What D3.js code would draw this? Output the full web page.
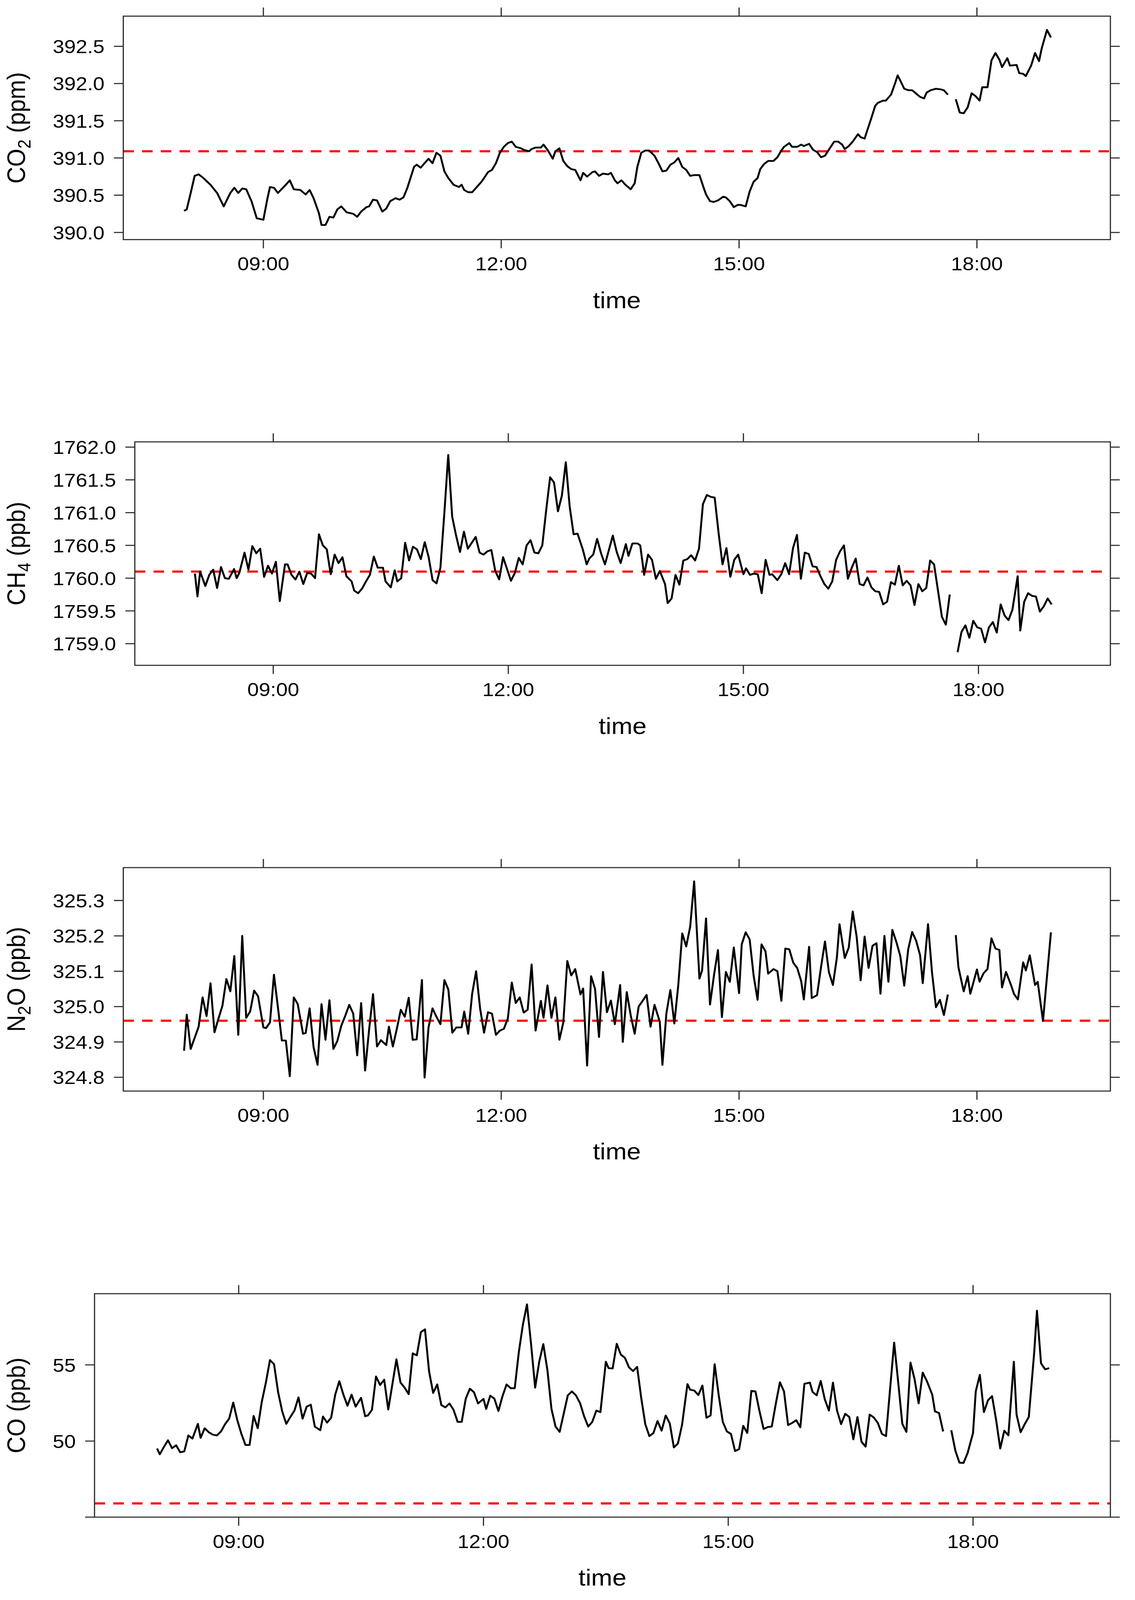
<!DOCTYPE html>
<html>
<head>
<meta charset="utf-8">
<script src="https://cdnjs.cloudflare.com/ajax/libs/d3/7.8.5/d3.min.js"></script>
<style>
  html, body { margin: 0; padding: 0; background: #fff; overflow: hidden; width: 100%; height: 100%; }
  svg { display: block; width: 100vw; height: 100vh; }
  text { font-family: "Liberation Sans", Arial, Helvetica, sans-serif; fill: #000; }
</style>
</head>
<body>
<svg id="chart" viewBox="0 0 2905 4461" preserveAspectRatio="none"></svg>
<script>
// ---- data (null = gap in the record)
var co2Times = ["08:00","08:02","08:05","08:08","08:11","08:14","08:20","08:25","08:30","08:35","08:38","08:41","08:44","08:47","08:51","08:55",
  "09:00","09:03","09:05","09:08","09:11","09:17","09:20","09:23","09:28","09:32","09:35","09:38","09:42","09:44","09:47","09:50","09:53","09:56","09:59",
  "10:03","10:08","10:11","10:14","10:18","10:20","10:23","10:26","10:30","10:33","10:36","10:40","10:43","10:46","10:49","10:54","10:56","10:59",
  "11:03","11:05","11:08","11:11","11:14","11:17","11:20","11:24","11:28","11:30","11:32","11:35","11:38","11:41","11:45","11:47","11:50","11:53","11:56","11:59",
  "12:02","12:05","12:08","12:11","12:15","12:17","12:21","12:23","12:26","12:30","12:32","12:35","12:39","12:41","12:44","12:47","12:50","12:53","12:56","12:58",
  "13:00","13:02","13:05","13:09","13:11","13:14","13:17","13:21","13:23","13:26","13:28","13:31","13:34","13:38","13:41","13:43","13:46","13:49","13:52","13:56","13:59",
  "14:02","14:05","14:08","14:11","14:14","14:17","14:20","14:23","14:26","14:30","14:33","14:35","14:38","14:41","14:44","14:48","14:50","14:53","14:56","14:59",
  "15:01","15:05","15:08","15:11","15:14","15:16","15:19","15:22","15:26","15:29","15:32","15:34","15:38","15:40","15:44","15:47","15:49","15:53","15:56","15:59",
  "16:02","16:05","16:09","16:12","16:15","16:18","16:20","16:23","16:26","16:30","16:32","16:35","16:37","16:40","16:43","16:45","16:49","16:51","16:55","16:58",
  "17:00","17:02","17:05","17:08","17:11","17:13","17:17","17:20","17:22","17:25","17:29","17:33","17:35","17:38","17:41","17:44","17:47","17:50","17:53","17:56","17:59",
  "18:02","18:04","18:08","18:11","18:14","18:17","18:19","18:23","18:25","18:30","18:32","18:35","18:37","18:41","18:44","18:47","18:49","18:53","18:56"]
var co2Values = [390.29,390.31,390.53,390.76,390.78,390.74,390.64,390.53,390.35,390.53,390.60,390.53,390.59,390.58,390.42,390.19,
  390.17,390.45,390.61,390.60,390.53,390.64,390.70,390.58,390.57,390.51,390.57,390.46,390.26,390.10,390.10,390.21,390.20,390.31,390.35,
  390.27,390.25,390.21,390.28,390.34,390.35,390.44,390.43,390.28,390.32,390.42,390.46,390.44,390.47,390.60,390.88,390.91,390.87,
  390.95,390.99,390.93,391.07,391.03,390.82,390.73,390.64,390.61,390.64,390.57,390.54,390.54,390.60,390.68,390.73,390.81,390.84,390.93,391.07,
  391.15,391.20,391.22,391.15,391.13,391.11,391.09,391.12,391.14,391.14,391.18,391.11,390.99,391.09,391.13,390.96,390.89,390.85,390.84,390.77,
  390.70,390.80,390.75,390.81,390.82,390.76,390.79,390.78,390.80,390.70,390.66,390.70,390.64,390.58,390.66,390.88,391.07,391.10,391.10,391.03,390.93,
  390.82,390.83,390.91,390.94,391.00,390.88,390.84,390.76,390.77,390.77,390.61,390.51,390.42,390.41,390.43,390.48,390.47,390.42,390.34,390.37,
  390.37,390.35,390.55,390.68,390.73,390.85,390.92,390.96,390.96,391.01,391.10,391.15,391.20,391.15,391.15,391.18,391.16,391.19,391.11,391.08,
  391.01,391.03,391.14,391.22,391.22,391.18,391.12,391.16,391.22,391.32,391.28,391.26,391.37,391.53,391.70,391.74,391.77,391.77,391.85,392.00,
  392.11,392.04,391.93,391.91,391.91,391.88,391.82,391.80,391.88,391.91,391.93,391.92,391.91,391.85,null,391.79,391.61,391.60,391.68,391.87,391.83,
  391.77,391.95,391.95,392.31,392.41,392.32,392.22,392.34,392.24,392.25,392.14,392.13,392.10,392.24,392.41,392.30,392.47,392.72,392.62]

var ch4Times = ["08:00","08:02","08:04","08:08","08:11","08:14","08:17","08:20","08:23","08:26","08:30","08:32","08:34","08:38","08:41","08:44","08:47","08:50","08:53","08:56","08:59",
  "09:02","09:05","09:09","09:11","09:14","09:17","09:20","09:23","09:26","09:29","09:32","09:35","09:38","09:41","09:44","09:47","09:50","09:53","09:56",
  "10:00","10:02","10:05","10:08","10:11","10:14","10:17","10:20","10:24","10:26","10:30","10:33","10:35","10:38","10:41","10:44","10:47","10:50","10:53","10:56","10:59",
  "11:02","11:05","11:08","11:11","11:14","11:17","11:20","11:23","11:26","11:29","11:33","11:35","11:38","11:41","11:44","11:47","11:50","11:53","11:56","11:59",
  "12:02","12:05","12:08","12:11","12:14","12:17","12:20","12:23","12:26","12:29","12:32","12:35","12:38","12:41","12:44","12:47","12:50","12:53","12:57",
  "13:00","13:02","13:05","13:08","13:11","13:14","13:17","13:20","13:23","13:26","13:30","13:32","13:35","13:39","13:41","13:44","13:47","13:50","13:53","13:56",
  "14:00","14:02","14:05","14:08","14:11","14:14","14:17","14:20","14:23","14:26","14:29","14:32","14:35","14:38","14:41","14:44","14:47","14:50","14:53","14:56",
  "15:00","15:02","15:05","15:08","15:11","15:14","15:17","15:20","15:22","15:26","15:29","15:32","15:35","15:38","15:41","15:44","15:47","15:50","15:53","15:56","15:59",
  "16:02","16:05","16:08","16:11","16:14","16:17","16:20","16:23","16:26","16:29","16:32","16:35","16:38","16:41","16:44","16:47","16:50","16:53","16:56","16:59",
  "17:02","17:05","17:08","17:11","17:14","17:17","17:20","17:23","17:26","17:29","17:32","17:35","17:38","17:41","17:44","17:47","17:50","17:53","17:56","17:59",
  "18:02","18:05","18:08","18:11","18:14","18:17","18:20","18:23","18:26","18:30","18:32","18:35","18:38","18:41","18:44","18:47","18:50","18:53","18:56"]
var ch4Values = [1760.07,1759.72,1760.10,1759.88,1760.05,1760.13,1759.85,1760.17,1760.00,1759.99,1760.14,1760.00,1760.08,1760.39,1760.13,1760.49,1760.38,1760.45,1760.02,1760.19,1760.07,
  1760.25,1759.65,1760.21,1760.21,1760.05,1759.98,1760.10,1759.91,1760.08,1760.07,1760.00,1760.67,1760.50,1760.44,1760.06,1760.36,1760.23,1760.32,1760.03,
  1759.95,1759.81,1759.77,1759.84,1759.95,1760.05,1760.33,1760.16,1760.16,1759.95,1759.86,1760.12,1759.95,1760.00,1760.54,1760.27,1760.48,1760.44,1760.29,1760.55,1760.32,
  1759.97,1759.92,1760.16,1760.99,1761.88,1760.94,1760.65,1760.40,1760.71,1760.45,1760.57,1760.63,1760.39,1760.36,1760.41,1760.43,1760.11,1759.98,1760.32,1760.14,
  1759.96,1760.08,1760.31,1760.21,1760.50,1760.58,1760.39,1760.38,1760.50,1761.04,1761.54,1761.46,1761.02,1761.26,1761.77,1761.09,1760.67,1760.68,1760.44,
  1760.21,1760.30,1760.36,1760.60,1760.38,1760.21,1760.43,1760.65,1760.40,1760.23,1760.52,1760.34,1760.53,1760.53,1760.50,1760.05,1760.36,1760.28,1759.99,1760.11,
  1759.91,1759.62,1759.69,1760.05,1759.90,1760.27,1760.29,1760.35,1760.27,1760.45,1761.13,1761.27,1761.24,1761.23,1760.69,1760.21,1760.46,1760.02,1760.28,1760.36,
  1760.06,1760.15,1760.05,1760.07,1760.06,1759.77,1760.28,1760.05,1760.06,1759.97,1760.06,1760.23,1760.06,1760.46,1760.66,1759.99,1760.39,1760.37,1760.18,1760.17,1760.03,
  1759.91,1759.84,1759.95,1760.28,1760.41,1760.50,1759.99,1760.16,1760.30,1759.91,1759.89,1760.01,1759.86,1759.80,1759.79,1759.60,1759.64,1759.94,1759.90,1760.19,
  1759.89,1759.96,1759.89,1759.59,1759.91,1759.80,1759.85,1760.27,1760.21,1759.81,1759.41,1759.29,1759.75,null,1758.87,1759.18,1759.28,1759.09,1759.35,1759.25,
  1759.23,1759.02,1759.25,1759.33,1759.17,1759.60,1759.43,1759.36,1759.52,1760.03,1759.20,1759.64,1759.77,1759.73,1759.72,1759.49,1759.57,1759.69,1759.60]

var n2oTimes = ["08:00","08:02","08:05","08:11","08:14","08:17","08:20","08:23","08:26","08:29","08:32","08:35","08:38","08:41","08:44","08:47","08:50","08:53","08:56",
  "09:00","09:02","09:05","09:08","09:11","09:14","09:17","09:20","09:23","09:26","09:30","09:32","09:35","09:38","09:41","09:44","09:47","09:50","09:53","09:56","09:59",
  "10:02","10:05","10:08","10:11","10:14","10:17","10:20","10:23","10:26","10:29","10:33","10:35","10:38","10:41","10:44","10:47","10:50","10:53","10:56",
  "11:00","11:02","11:05","11:08","11:11","11:14","11:17","11:20","11:23","11:26","11:30","11:32","11:35","11:38","11:41","11:44","11:47","11:50","11:53","11:56","11:59",
  "12:02","12:05","12:08","12:11","12:14","12:17","12:20","12:23","12:26","12:30","12:32","12:35","12:38","12:41","12:44","12:47","12:50","12:53","12:56",
  "13:00","13:02","13:05","13:08","13:11","13:14","13:17","13:20","13:23","13:26","13:30","13:32","13:35","13:38","13:41","13:44","13:47","13:50","13:53","13:56",
  "14:00","14:02","14:05","14:08","14:11","14:14","14:17","14:20","14:23","14:26","14:30","14:32","14:35","14:38","14:41","14:44","14:47","14:50","14:53","14:56",
  "15:00","15:02","15:05","15:08","15:11","15:14","15:17","15:20","15:22","15:26","15:29","15:32","15:35","15:38","15:41","15:44","15:47","15:49","15:53","15:55","15:59",
  "16:02","16:05","16:08","16:11","16:14","16:16","16:20","16:23","16:26","16:29","16:32","16:35","16:38","16:41","16:44","16:47","16:50","16:53","16:56","16:59",
  "17:02","17:05","17:08","17:11","17:14","17:17","17:19","17:23","17:26","17:29","17:32","17:35","17:38","17:41","17:44","17:46","17:50","17:53","17:55",
  "18:00","18:02","18:05","18:08","18:11","18:14","18:17","18:19","18:22","18:26","18:28","18:31","18:35","18:37","18:40","18:44","18:46","18:50","18:56"]
var n2oValues = [324.875,324.977,324.880,324.943,325.026,324.973,325.066,324.927,324.966,325.002,325.078,325.043,325.143,324.920,325.200,324.968,324.986,325.045,325.029,
  324.941,324.939,324.955,325.090,324.998,324.904,324.904,324.803,325.026,325.007,324.923,324.925,324.995,324.885,324.835,325.007,324.906,325.018,324.880,324.903,324.946,
  324.974,325.005,324.980,324.862,325.010,324.819,324.934,325.035,324.887,324.905,324.891,324.943,324.887,324.937,324.991,324.971,325.025,324.906,324.907,
  325.075,324.799,324.941,324.995,324.971,324.950,325.075,325.048,324.926,324.941,324.941,324.986,324.923,325.036,325.100,324.995,324.926,324.984,324.980,324.920,324.932,
  324.937,324.966,325.068,325.010,325.026,324.983,324.991,325.119,324.932,325.016,324.968,325.060,324.968,325.026,324.906,324.955,325.129,325.088,325.106,
  325.034,325.051,324.833,325.086,325.050,324.914,325.098,324.984,325.017,324.950,325.061,324.900,325.041,324.975,324.923,325.000,325.016,325.033,324.943,325.005,
  324.957,324.835,324.981,325.047,324.952,325.061,325.207,325.170,325.226,325.354,325.079,325.102,325.249,325.006,325.088,325.160,324.970,325.098,325.070,325.167,
  325.038,325.176,325.210,325.190,325.088,325.019,325.176,325.156,325.093,325.106,325.100,325.016,325.164,325.162,325.124,325.109,325.072,325.020,325.169,325.024,325.032,
  325.111,325.184,325.097,325.061,325.138,325.233,325.137,325.167,325.269,325.197,325.074,325.198,325.109,325.172,325.179,325.036,325.200,325.070,325.217,325.183,
  325.143,325.059,325.162,325.211,325.186,325.145,325.066,325.233,325.097,324.998,325.019,324.976,325.034,null,325.202,325.111,325.043,325.086,325.036,
  325.105,325.070,325.094,325.106,325.193,325.164,325.160,325.054,325.098,325.059,325.036,325.020,325.125,325.102,325.145,325.061,325.070,324.959,325.210]

var coTimes = ["08:00","08:02","08:05","08:08","08:11","08:14","08:17","08:20","08:23","08:26","08:30","08:32","08:35","08:38","08:41","08:44","08:47","08:50","08:53","08:56","08:59",
  "09:02","09:05","09:08","09:11","09:14","09:17","09:20","09:23","09:26","09:29","09:32","09:35","09:38","09:41","09:44","09:47","09:50","09:53","09:56",
  "10:00","10:02","10:05","10:08","10:11","10:14","10:17","10:20","10:23","10:26","10:30","10:33","10:35","10:38","10:41","10:44","10:47","10:50","10:56","10:59",
  "11:02","11:05","11:08","11:11","11:14","11:17","11:20","11:23","11:26","11:29","11:32","11:35","11:38","11:41","11:44","11:47","11:50","11:53","11:56",
  "12:00","12:02","12:05","12:08","12:11","12:14","12:17","12:20","12:23","12:26","12:29","12:32","12:35","12:38","12:41","12:44","12:47","12:50","12:53","12:56","12:59",
  "13:02","13:05","13:08","13:11","13:14","13:17","13:20","13:23","13:26","13:30","13:32","13:35","13:38","13:41","13:44","13:47","13:50","13:53","13:56","13:59",
  "14:02","14:05","14:08","14:11","14:14","14:17","14:20","14:23","14:26","14:30","14:32","14:35","14:38","14:41","14:44","14:47","14:50","14:53","14:56","14:59",
  "15:02","15:05","15:08","15:11","15:14","15:17","15:20","15:23","15:26","15:29","15:32","15:35","15:38","15:41","15:44","15:47","15:50","15:53","15:56",
  "16:00","16:02","16:05","16:08","16:11","16:14","16:17","16:20","16:23","16:26","16:29","16:32","16:35","16:38","16:41","16:44","16:47","16:50","16:53","16:56","16:59",
  "17:02","17:05","17:08","17:11","17:14","17:17","17:20","17:23","17:26","17:30","17:32","17:35","17:38","17:41","17:44","17:47","17:50","17:53","17:56",
  "18:00","18:02","18:05","18:08","18:11","18:14","18:17","18:20","18:23","18:26","18:30","18:32","18:35","18:38","18:41","18:45","18:47","18:50","18:53","18:56"]
var coValues = [49.51,49.13,49.61,50.05,49.53,49.72,49.26,49.32,50.37,50.16,51.13,50.21,50.84,50.58,50.42,50.37,50.63,51.11,51.47,52.53,51.37,
  50.47,49.74,49.74,51.65,50.84,52.58,53.84,55.32,55.05,53.21,51.95,51.13,51.58,52.00,52.87,51.47,52.26,52.39,50.95,
  50.71,51.61,51.21,51.53,53.05,53.93,53.05,52.32,53.05,52.26,52.84,51.63,51.68,52.05,54.24,53.68,54.03,52.07,55.37,53.84,
  53.51,53.08,55.76,55.63,57.16,57.34,54.58,53.16,53.72,52.37,52.21,52.47,52.05,51.26,51.26,52.79,53.44,53.21,52.47,
  52.77,52.11,52.98,52.79,51.97,52.95,53.72,53.47,53.47,55.84,57.65,58.98,56.37,53.51,55.21,56.37,54.68,52.11,50.95,50.60,51.79,
  53.00,53.26,53.00,52.50,51.63,50.95,51.26,52.00,51.90,55.21,54.79,54.77,56.39,55.68,55.47,54.84,54.60,54.87,52.84,51.11,
  50.32,50.53,51.32,50.68,51.68,51.16,49.58,49.84,51.05,53.74,53.37,53.32,53.02,53.65,51.53,51.68,55.05,53.00,51.26,50.63,
  50.47,49.34,49.47,51.00,50.53,53.30,53.26,51.95,50.79,50.92,50.95,52.47,53.86,53.26,51.05,51.19,51.37,50.90,53.76,
  53.84,53.23,53.00,53.95,52.74,52.00,53.84,52.00,51.11,51.79,51.58,50.11,51.58,49.95,49.63,51.74,51.55,51.19,50.47,50.32,53.42,
  56.47,53.84,51.13,50.60,55.16,54.07,52.47,54.50,53.95,53.05,51.95,51.84,50.63,null,50.71,49.37,48.58,48.56,49.21,
  50.53,53.26,54.35,51.90,52.68,52.95,51.37,49.51,50.68,50.37,55.21,51.74,50.58,51.11,51.58,55.84,58.56,55.11,54.71,54.79]

// reference (background) levels, dashed red lines
var references = [391.09, 1760.10, 324.96, 45.9]

// axis limits and ticks
var xLimits = ["07:14", "19:41"]
var xTicks = ["09:00", "12:00", "15:00", "18:00"]
var yLimits = [[389.904, 392.905], [1758.67, 1762.08], [324.761, 325.393], [45.0, 59.68]]
var yTicks = [
  [390.0, 390.5, 391.0, 391.5, 392.0, 392.5],
  [1759.0, 1759.5, 1760.0, 1760.5, 1761.0, 1761.5, 1762.0],
  [324.8, 324.9, 325.0, 325.1, 325.2, 325.3],
  [45, 50, 55]
]
var yTickLabels = [
  ["390.0", "390.5", "391.0", "391.5", "392.0", "392.5"],
  ["1759.0", "1759.5", "1760.0", "1760.5", "1761.0", "1761.5", "1762.0"],
  ["324.8", "324.9", "325.0", "325.1", "325.2", "325.3"],
  ["", "50", "55"]
]
// y axis titles: [main, subscript, rest]
var yTitles = [["CO", "2", " (ppm)"], ["CH", "4", " (ppb)"], ["N", "2", "O (ppb)"], ["CO", "", " (ppb)"]]
var xTitle = "time"

var seriesTimes = [co2Times, ch4Times, n2oTimes, coTimes]
var seriesValues = [co2Values, ch4Values, n2oValues, coValues]

// ---- layout
var svg = d3.select("#chart")
var panelTops = [45, 1232, 2419, 3607]
var panelHeight = 623
var panelRight = 2842
var labelLeft = 135
var tickLen = 24
var tickFont = 53
var titleFont = 65
var frameColor = "#2b2b2b"

var parseTime = d3.timeParse("%H:%M")

svg.append("rect").attr("width", 2905).attr("height", 4461).attr("fill", "#fff")

// measure widest tick label to place the panel's left edge (like lattice does)
function labelWidth(labels) {
  var tmp = svg.append("g")
  var w = 0
  labels.forEach(function(s) {
    var t = tmp.append("text").style("font-size", tickFont + "px").text(s)
    w = Math.max(w, t.node().getComputedTextLength())
  })
  tmp.remove()
  return w
}

panelTops.forEach(function(top, i) {
  var bottom = top + panelHeight
  var left = labelLeft + labelWidth(yTickLabels[i]) + 2 * tickLen

  var x = d3.scaleTime()
    .domain(xLimits.map(parseTime))
    .range([left, panelRight])

  var y = d3.scaleLinear()
    .domain(yLimits[i])
    .range([bottom, top])

  var g = svg.append("g").attr("class", "panel")

  g.append("clipPath").attr("id", "clip" + i)
    .append("rect")
      .attr("x", left).attr("y", top)
      .attr("width", panelRight - left).attr("height", panelHeight)

  var plot = g.append("g").attr("clip-path", "url(#clip" + i + ")")

  // reference line
  plot.append("line")
    .attr("x1", left).attr("x2", panelRight)
    .attr("y1", y(references[i])).attr("y2", y(references[i]))
    .attr("stroke", "#ff0000")
    .attr("stroke-width", 6)
    .attr("stroke-dasharray", "27,21")

  // measurement line
  var points = seriesTimes[i].map(function(t, k) {
    return { time: parseTime(t), value: seriesValues[i][k] }
  })

  var line = d3.line()
    .defined(function(d) { return d.value != null })
    .x(function(d) { return x(d.time) })
    .y(function(d) { return y(d.value) })

  plot.append("path")
    .datum(points)
    .attr("d", line)
    .attr("fill", "none")
    .attr("stroke", "#000")
    .attr("stroke-width", 5)
    .attr("stroke-linejoin", "round")

  // frame
  g.append("rect")
    .attr("x", left).attr("y", top)
    .attr("width", panelRight - left).attr("height", panelHeight)
    .attr("fill", "none")
    .attr("stroke", frameColor)
    .attr("stroke-width", 3)

  // x ticks, top and bottom
  var xt = xTicks.map(parseTime)
  g.selectAll(".xtick").data(xt).enter().append("path")
    .attr("d", function(d) {
      var px = x(d)
      return "M" + px + "," + (top - tickLen) + "V" + top +
             "M" + px + "," + bottom + "V" + (bottom + tickLen)
    })
    .attr("stroke", frameColor).attr("stroke-width", 3)

  g.selectAll(".xlab").data(xt).enter().append("text")
    .attr("x", function(d) { return x(d) })
    .attr("y", bottom + 86)
    .attr("text-anchor", "middle")
    .style("font-size", tickFont + "px")
    .text(d3.timeFormat("%H:%M"))

  g.append("text")
    .attr("x", (left + panelRight) / 2)
    .attr("y", bottom + 191)
    .attr("text-anchor", "middle")
    .style("font-size", titleFont + "px")
    .text(xTitle)

  // y ticks, left and right
  g.selectAll(".ytick").data(yTicks[i]).enter().append("path")
    .attr("d", function(d) {
      var py = y(d)
      return "M" + (left - tickLen) + "," + py + "H" + left +
             "M" + panelRight + "," + py + "H" + (panelRight + tickLen)
    })
    .attr("stroke", frameColor).attr("stroke-width", 3)

  g.selectAll(".ylab").data(yTicks[i]).enter().append("text")
    .attr("x", left - 2 * tickLen)
    .attr("y", function(d) { return y(d) })
    .attr("dy", "0.36em")
    .attr("text-anchor", "end")
    .style("font-size", tickFont + "px")
    .text(function(d, k) { return yTickLabels[i][k] })

  // rotated y title with subscript
  var cy = (top + bottom) / 2
  var title = g.append("text")
    .attr("transform", "translate(64," + cy + ") rotate(-90)")
    .attr("text-anchor", "middle")
    .style("font-size", titleFont + "px")
  title.append("tspan").text(yTitles[i][0])
  if (yTitles[i][1]) {
    title.append("tspan").attr("dy", 14).style("font-size", "46px").text(yTitles[i][1])
    title.append("tspan").attr("dy", -14).text(yTitles[i][2])
  } else {
    title.append("tspan").text(yTitles[i][2])
  }
})
</script>
</body>
</html>
